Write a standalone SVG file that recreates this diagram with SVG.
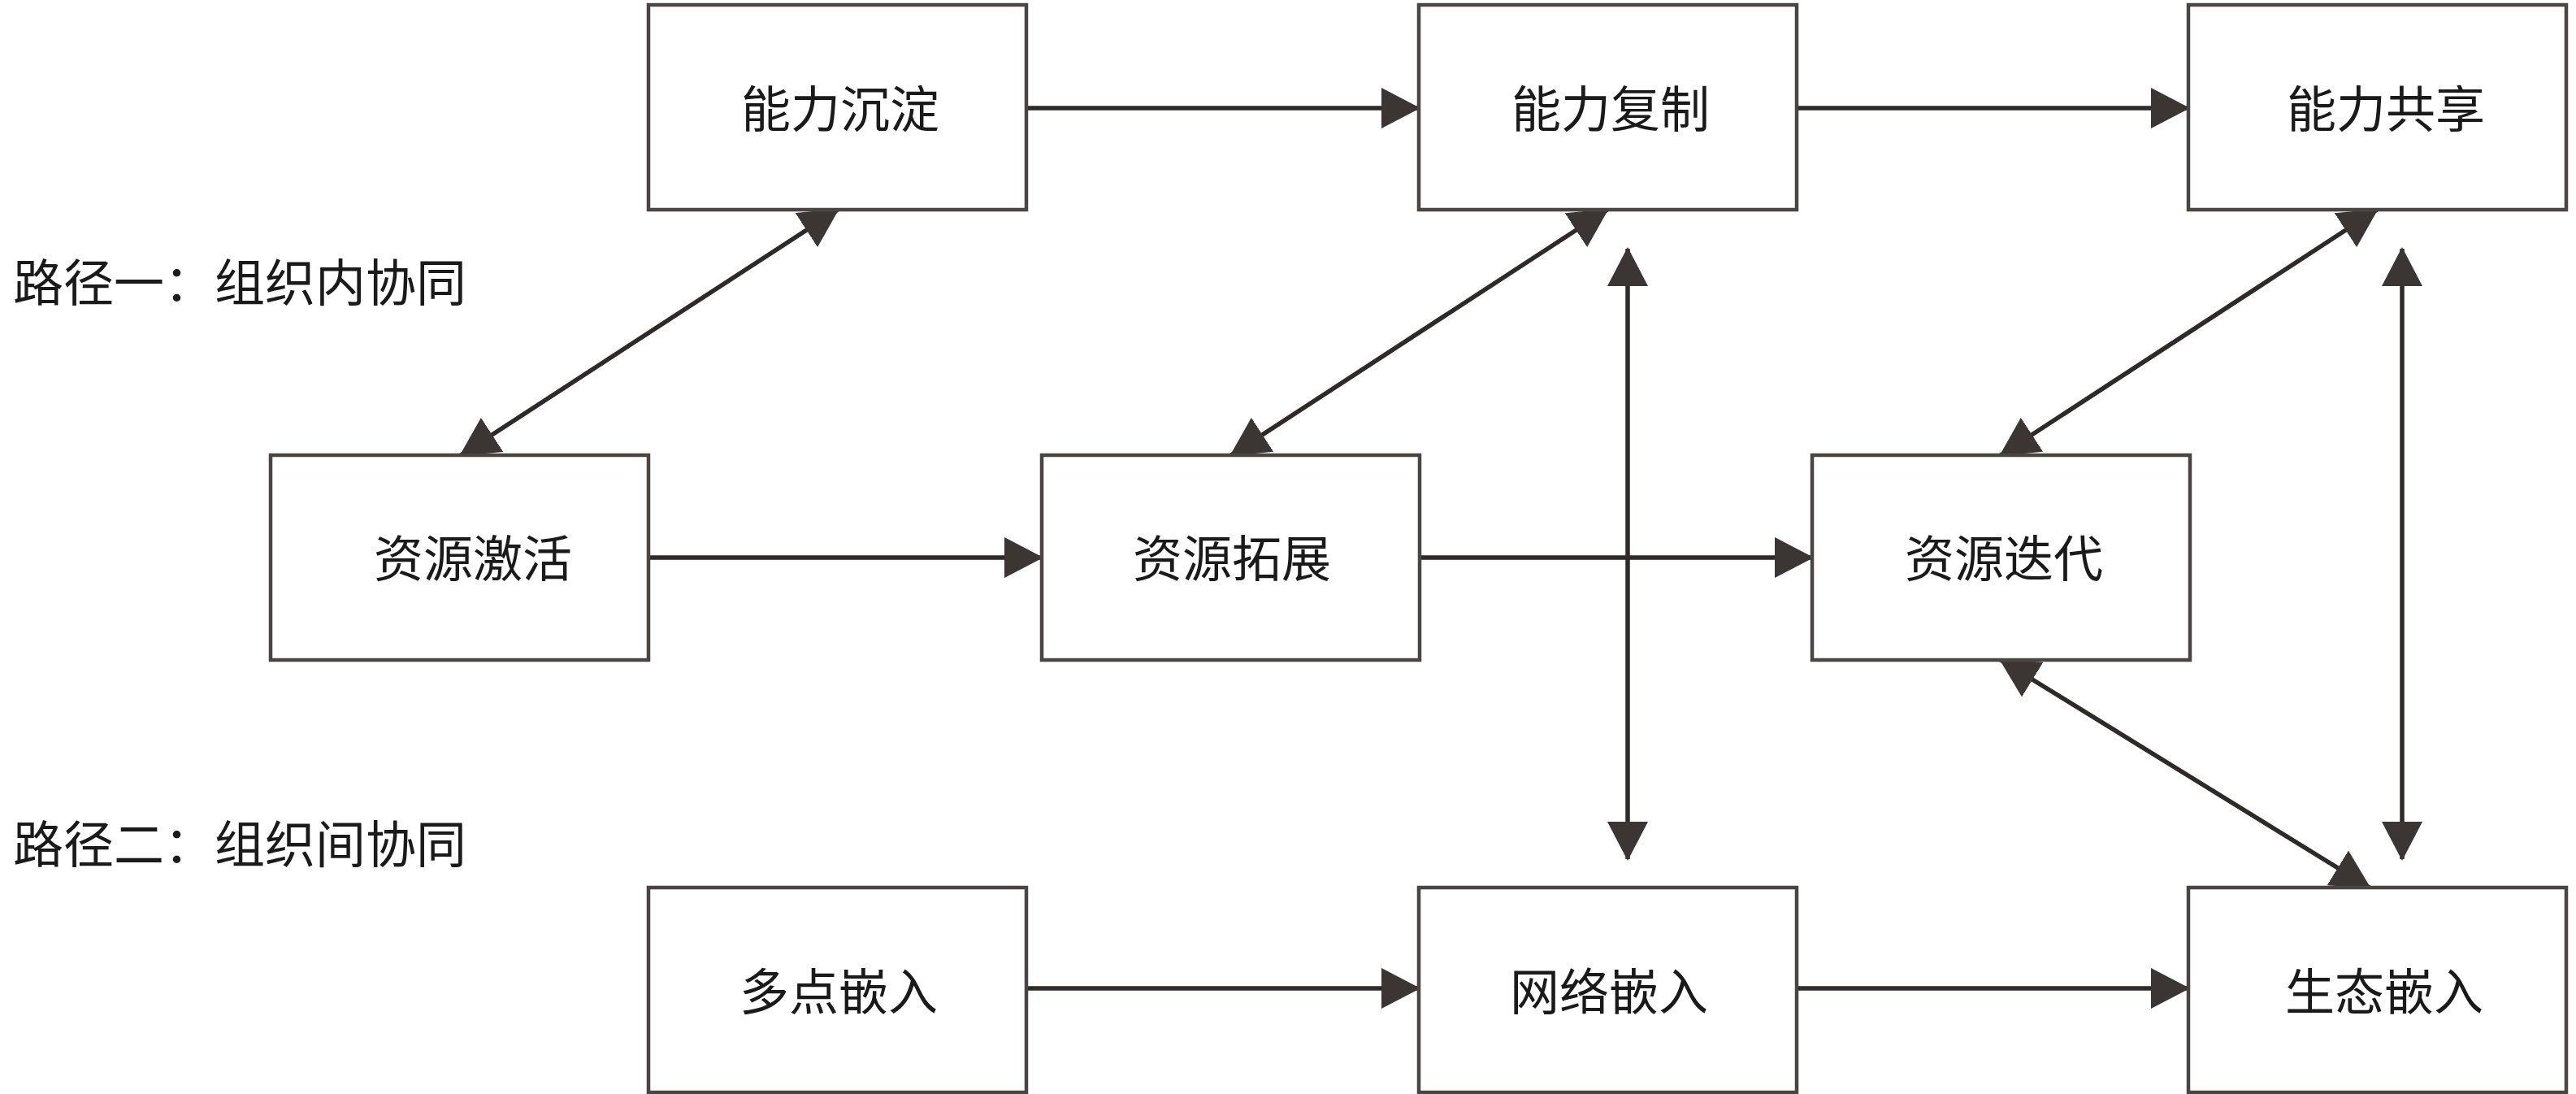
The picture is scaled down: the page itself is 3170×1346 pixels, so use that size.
<svg xmlns="http://www.w3.org/2000/svg" width="3170" height="1346" viewBox="0 0 3170 1346">
<style>
.box{fill:#ffffff;stroke:#4a4543;stroke-width:4.5}
.lbl{font-family:"Noto Sans CJK SC",sans-serif;font-size:61px;fill:#1a1a1a;text-anchor:middle;dominant-baseline:central}
.side{font-family:"Noto Sans CJK SC",sans-serif;font-size:62px;fill:#1a1a1a;dominant-baseline:central}
.conn{stroke:#2e2a29;stroke-width:5.5;fill:none}
</style>
<defs>
<marker id="ah" viewBox="0 0 48 50" markerWidth="48" markerHeight="50" markerUnits="userSpaceOnUse" refX="46" refY="25" orient="auto-start-reverse">
<path d="M0,0 L48,25 L0,50 z" fill="#3b3533"/>
</marker>
</defs>
<rect width="3170" height="1346" fill="#ffffff"/>
<text class="side" x="16" y="344">路径一：组织内协同</text>
<text class="side" x="16" y="1035">路径二：组织间协同</text>
<g id="connectors">
<line class="conn" x1="1263" y1="133" x2="1746" y2="133" marker-end="url(#ah)"/>
<line class="conn" x1="2211" y1="133" x2="2693" y2="133" marker-end="url(#ah)"/>
<line class="conn" x1="798" y1="686" x2="1282" y2="686" marker-end="url(#ah)"/>
<line class="conn" x1="1747" y1="686" x2="2230" y2="686" marker-end="url(#ah)"/>
<line class="conn" x1="1263" y1="1216" x2="1746" y2="1216" marker-end="url(#ah)"/>
<line class="conn" x1="2211" y1="1216" x2="2693" y2="1216" marker-end="url(#ah)"/>
<line class="conn" x1="1031" y1="258" x2="567" y2="560" marker-start="url(#ah)" marker-end="url(#ah)"/>
<line class="conn" x1="1978" y1="258" x2="1515" y2="560" marker-start="url(#ah)" marker-end="url(#ah)"/>
<line class="conn" x1="2925" y1="258" x2="2462" y2="560" marker-start="url(#ah)" marker-end="url(#ah)"/>
<line class="conn" x1="2462" y1="812" x2="2916" y2="1092" marker-start="url(#ah)" marker-end="url(#ah)"/>
<line class="conn" x1="2003" y1="306" x2="2003" y2="1057" marker-start="url(#ah)" marker-end="url(#ah)"/>
<line class="conn" x1="2956" y1="306" x2="2956" y2="1057" marker-start="url(#ah)" marker-end="url(#ah)"/>
</g>
<g id="n1"><rect class="box" x="798" y="6" width="465" height="252"/><text class="lbl" x="1034" y="130">能力沉淀</text></g>
<g id="n2"><rect class="box" x="1746" y="6" width="465" height="252"/><text class="lbl" x="1982" y="130">能力复制</text></g>
<g id="n3"><rect class="box" x="2693" y="6" width="465" height="252"/><text class="lbl" x="2936" y="130">能力共享</text></g>
<g id="n4"><rect class="box" x="333" y="560" width="465" height="252"/><text class="lbl" x="582" y="683">资源激活</text></g>
<g id="n5"><rect class="box" x="1282" y="560" width="465" height="252"/><text class="lbl" x="1516" y="683">资源拓展</text></g>
<g id="n6"><rect class="box" x="2230" y="560" width="465" height="252"/><text class="lbl" x="2466" y="683">资源迭代</text></g>
<g id="n7"><rect class="box" x="798" y="1092" width="465" height="252"/><text class="lbl" x="1032" y="1216">多点嵌入</text></g>
<g id="n8"><rect class="box" x="1746" y="1092" width="465" height="252"/><text class="lbl" x="1980" y="1216">网络嵌入</text></g>
<g id="n9"><rect class="box" x="2693" y="1092" width="465" height="252"/><text class="lbl" x="2934" y="1216">生态嵌入</text></g>
</svg>
